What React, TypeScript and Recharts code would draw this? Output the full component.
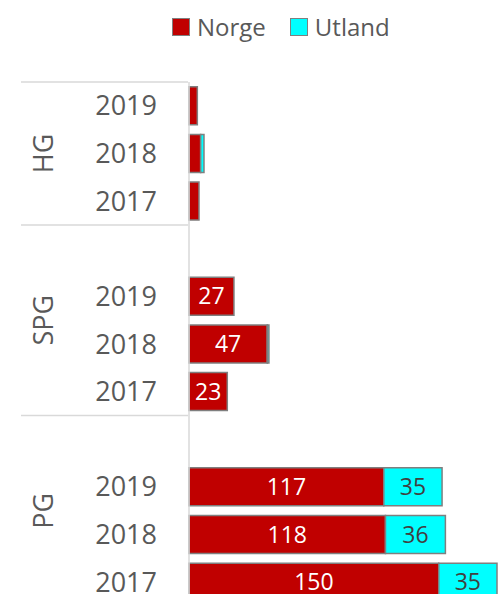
import { BarChart, Bar, XAxis, YAxis, Legend, LabelList } from 'recharts'

const groups = ['HG', 'SPG', 'PG']
const years = ['2019', '2018', '2017']
const norge = [5, 7, 6, 27, 47, 23, 117, 118, 150]
const utland = [0, 2, 0, 0, 1, 0, 35, 36, 35]
const xMax = 188

const W = 502
const H = 610
const MARGIN = { top: 82, right: 0, bottom: 4, left: 0 }
const FONT = '"Open Sans", sans-serif'
const TEXT = '#595959'
const GRID = '#d9d9d9'

type Row = {
  key: string
  group: string
  year: string
  norge: number | null
  utland: number | null
  first: boolean
  size: number
}

// one empty row in front of every group except the first
const rows: Row[] = []
groups.forEach((g, gi) => {
  const size = years.length + (gi > 0 ? 1 : 0)
  if (gi > 0) rows.push({ key: `${g}-gap`, group: g, year: '', norge: null, utland: null, first: true, size })
  years.forEach((y, yi) => {
    const i = gi * years.length + yi
    rows.push({ key: `${g}-${y}`, group: g, year: y, norge: norge[i], utland: utland[i], first: gi === 0 && yi === 0, size })
  })
})

const band = (H - MARGIN.top - MARGIN.bottom) / rows.length

function CategoryTick({ y, payload }: any) {
  const row = rows.find((r) => r.key === payload.value)
  if (!row) return null
  const top = y - band / 2
  return (
    <g>
      {row.year && (
        <text x={157} y={y - 1} textAnchor="end" dominantBaseline="central" fontSize={27} fontFamily={FONT} fill={TEXT}>
          {row.year}
        </text>
      )}
      {row.first && (
        <>
          <line x1={21} x2={188} y1={top} y2={top} stroke={GRID} strokeWidth={1.5} />
          <text
            transform={`translate(42, ${top + (row.size * band) / 2}) rotate(-90)`}
            textAnchor="middle"
            dominantBaseline="central"
            fontSize={27}
            fontFamily={FONT}
            fill={TEXT}
          >
            {row.group}
          </text>
        </>
      )}
    </g>
  )
}

function LegendContent() {
  const items = [
    { name: 'Norge', color: '#c00000' },
    { name: 'Utland', color: '#00ffff' },
  ]
  return (
    <div style={{ display: 'flex', paddingLeft: 172, fontFamily: FONT, fontSize: 24, color: TEXT }}>
      {items.map((it) => (
        <div key={it.name} style={{ display: 'flex', alignItems: 'center', marginRight: 24 }}>
          <span
            style={{
              width: 16,
              height: 16,
              background: it.color,
              border: '1px solid #7f7f7f',
              marginRight: 7,
              display: 'inline-block',
            }}
          />
          <span>{it.name}</span>
        </div>
      ))}
    </div>
  )
}

const hideSmall = (v: any) => (typeof v === 'number' && v >= 10 ? v : '')

export default function App() {
  return (
    <div style={{ position: 'absolute', left: 0, top: 0, background: '#fff' }}>
      <BarChart width={W} height={H} data={rows} layout="vertical" margin={MARGIN} barCategoryGap="10%">
        <XAxis type="number" domain={[0, xMax]} hide />
        <YAxis
          type="category"
          dataKey="key"
          width={189}
          interval={0}
          tickLine={false}
          axisLine={{ stroke: GRID, strokeWidth: 1.5 }}
          tick={<CategoryTick />}
        />
        <Legend
          verticalAlign="middle"
          align="center"
          layout="horizontal"
          content={<LegendContent />}
          wrapperStyle={{ top: 10, left: 0, width: W }}
        />
        <Bar dataKey="norge" name="Norge" stackId="a" fill="#c00000" stroke="#7f7f7f" strokeWidth={1.5} isAnimationActive={false}>
          <LabelList dataKey="norge" position="center" fill="#ffffff" fontSize={23} fontFamily={FONT} formatter={hideSmall} />
        </Bar>
        <Bar dataKey="utland" name="Utland" stackId="a" fill="#00ffff" stroke="#7f7f7f" strokeWidth={1.5} isAnimationActive={false}>
          <LabelList dataKey="utland" position="center" fill="#404040" fontSize={23} fontFamily={FONT} formatter={hideSmall} />
        </Bar>
      </BarChart>
    </div>
  )
}
